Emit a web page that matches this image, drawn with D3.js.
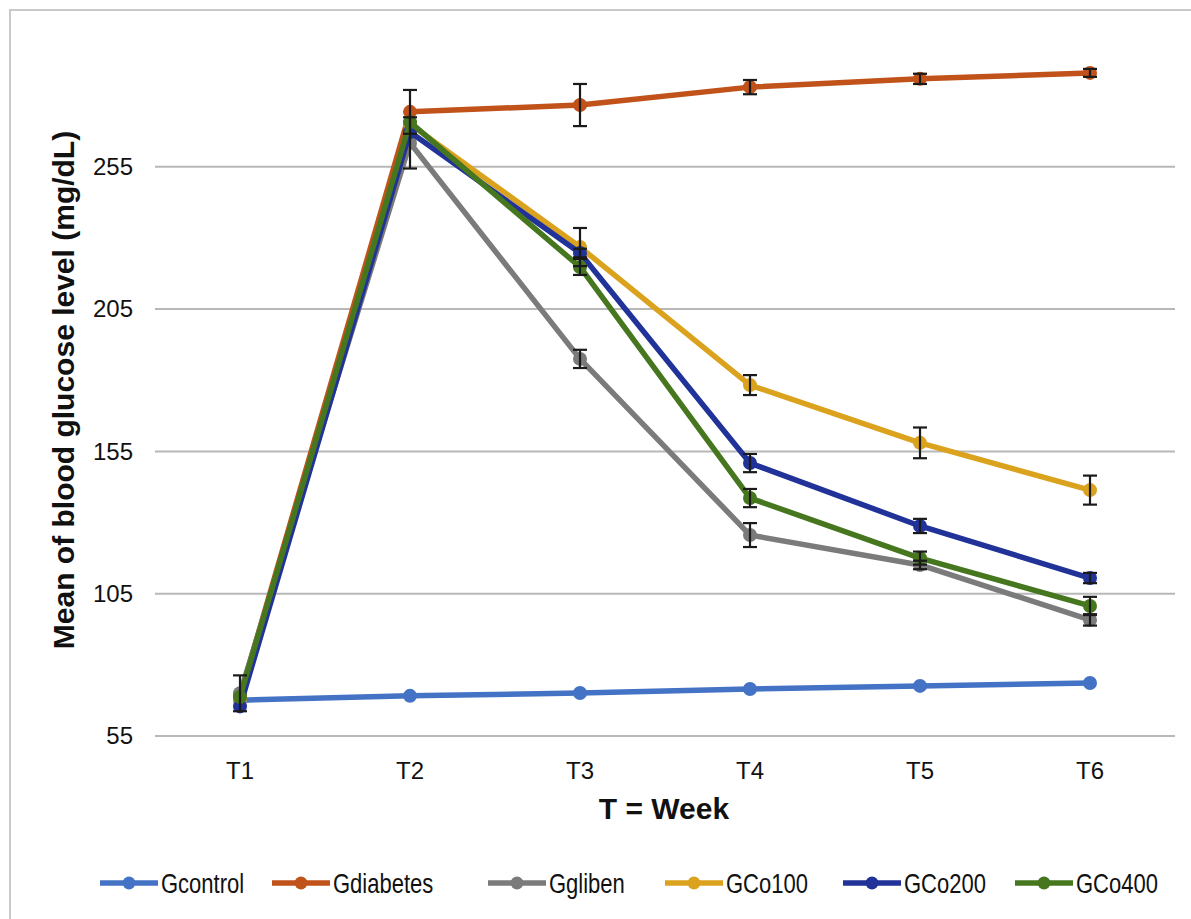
<!DOCTYPE html>
<html><head><meta charset="utf-8">
<script src="https://cdn.jsdelivr.net/npm/d3@7"></script>
<style>body{margin:0;background:#fff}svg{display:block}</style>
</head><body>
<svg id="c" width="1191" height="919"></svg>
<script>
const categories = ["T1","T2","T3","T4","T5","T6"];
const yTicks = [55,105,155,205,255];
const seriesNames = ["Gcontrol","Gdiabetes","Ggliben","GCo100","GCo200","GCo400"];
const seriesColors = ["#4472C4","#C0521A","#7B7B7B","#DBA21E","#213399","#46771F"];
const Gcontrol  = [67.6, 69.1, 70.1, 71.5, 72.6, 73.6];
const Gdiabetes = [69.0, 274.3, 276.7, 283.0, 285.9, 288.0];
const Ggliben   = [70.0, 263.4, 187.5, 125.6, 115.1, 95.8];
const GCo100    = [68.0, 270.0, 226.8, 178.3, 158.0, 141.4];
const GCo200    = [65.4, 267.2, 224.7, 150.9, 128.8, 110.5];
const GCo400    = [68.7, 270.7, 219.8, 138.6, 117.5, 100.7];
const errGcontrol  = [0.5, 0.5, 0.8, 0.8, 0.8, 0.8];
const errGdiabetes = [0.5, 7.7, 7.4, 2.5, 1.8, 1.4];
const errGgliben   = [6.3, 9, 3.2, 4.2, 1.5, 2];
const errGCo100    = [0.5, 1, 6.7, 3.5, 5.4, 5.1];
const errGCo200    = [0.5, 1, 1.5, 3.2, 2.5, 1.8];
const errGCo400    = [0.5, 1, 2.8, 3.2, 2.3, 3.2];

const values = [Gcontrol,Gdiabetes,Ggliben,GCo100,GCo200,GCo400];
const errors = [errGcontrol,errGdiabetes,errGgliben,errGCo100,errGCo200,errGCo400];

const svg = d3.select("#c");
svg.append("rect").attr("x",10).attr("y",10).attr("width",1200).attr("height",930)
  .attr("fill","#fff").attr("stroke","#c9c9c9").attr("stroke-width",2);

const x = d3.scaleBand().domain(categories).range([155,1175]);
const y = d3.scaleLinear().domain([55,300]).range([736, 736-245*142.3/50]);

svg.append("g").selectAll("line").data(yTicks).join("line")
  .attr("x1",155).attr("x2",1175).attr("y1",d=>y(d)).attr("y2",d=>y(d))
  .attr("stroke","#b8b8b8").attr("stroke-width",2);

const yAxis = d3.axisLeft(y).tickValues(yTicks).tickSize(0).tickPadding(0);
const ga = svg.append("g").attr("transform","translate(133,0)").call(yAxis);
ga.select(".domain").remove();
ga.selectAll("text").attr("font-family","Liberation Sans, Arial, sans-serif").attr("font-size",24).attr("fill","#111");

const xAxis = d3.axisBottom(x).tickSize(0).tickPadding(0);
const gx = svg.append("g").attr("transform","translate(0,762)").call(xAxis);
gx.select(".domain").remove();
gx.selectAll("text").attr("font-family","Liberation Sans, Arial, sans-serif").attr("font-size",24).attr("fill","#111").attr("dy","0.71em");

svg.append("text").attr("x",664).attr("y",819).attr("text-anchor","middle")
  .attr("font-family","Liberation Sans, Arial, sans-serif").attr("font-weight","bold").attr("font-size",30).attr("fill","#111")
  .text("T = Week");
svg.append("text").attr("transform","translate(74,390) rotate(-90)").attr("text-anchor","middle")
  .attr("font-family","Liberation Sans, Arial, sans-serif").attr("font-weight","bold").attr("font-size",30).attr("fill","#111")
  .text("Mean of blood glucose level (mg/dL)");

const cx = c => x(c) + x.bandwidth()/2;
const line = d3.line().x((d,i)=>cx(categories[i])).y(d=>y(d));

values.forEach((vals,si)=>{
  const g = svg.append("g");
  g.append("path").attr("d",line(vals)).attr("fill","none")
    .attr("stroke",seriesColors[si]).attr("stroke-width",5.5).attr("stroke-linejoin","round");
  g.selectAll("circle").data(vals).join("circle")
    .attr("cx",(d,i)=>cx(categories[i])).attr("cy",d=>y(d)).attr("r",7)
    .attr("fill",seriesColors[si]);
});

values.forEach((vals,si)=>{
  const g = svg.append("g").attr("stroke","#1a1a1a").attr("stroke-width",2.2);
  vals.forEach((v,i)=>{
    const e = errors[si][i];
    if (y(v-e)-y(v+e) < 6) return;
    const xx = cx(categories[i]);
    g.append("line").attr("x1",xx).attr("x2",xx).attr("y1",y(v-e)).attr("y2",y(v+e));
    g.append("line").attr("x1",xx-7).attr("x2",xx+7).attr("y1",y(v-e)).attr("y2",y(v-e));
    g.append("line").attr("x1",xx-7).attr("x2",xx+7).attr("y1",y(v+e)).attr("y2",y(v+e));
  });
});

const legX = [100,272,488,665,843,1015];
const lg = svg.append("g");
seriesNames.forEach((n,i)=>{
  const gx0 = legX[i];
  lg.append("line").attr("x1",gx0).attr("x2",gx0+58).attr("y1",883).attr("y2",883)
    .attr("stroke",seriesColors[i]).attr("stroke-width",5.5);
  lg.append("circle").attr("cx",gx0+29).attr("cy",883).attr("r",6.5).attr("fill",seriesColors[i]);
  lg.append("text").attr("transform",`translate(${gx0+61},883) scale(0.8,1)`).attr("dy","0.36em")
    .attr("font-family","Liberation Sans, Arial, sans-serif").attr("font-size",27.5).attr("fill","#111")
    .text(n);
});
</script>
</body></html>
